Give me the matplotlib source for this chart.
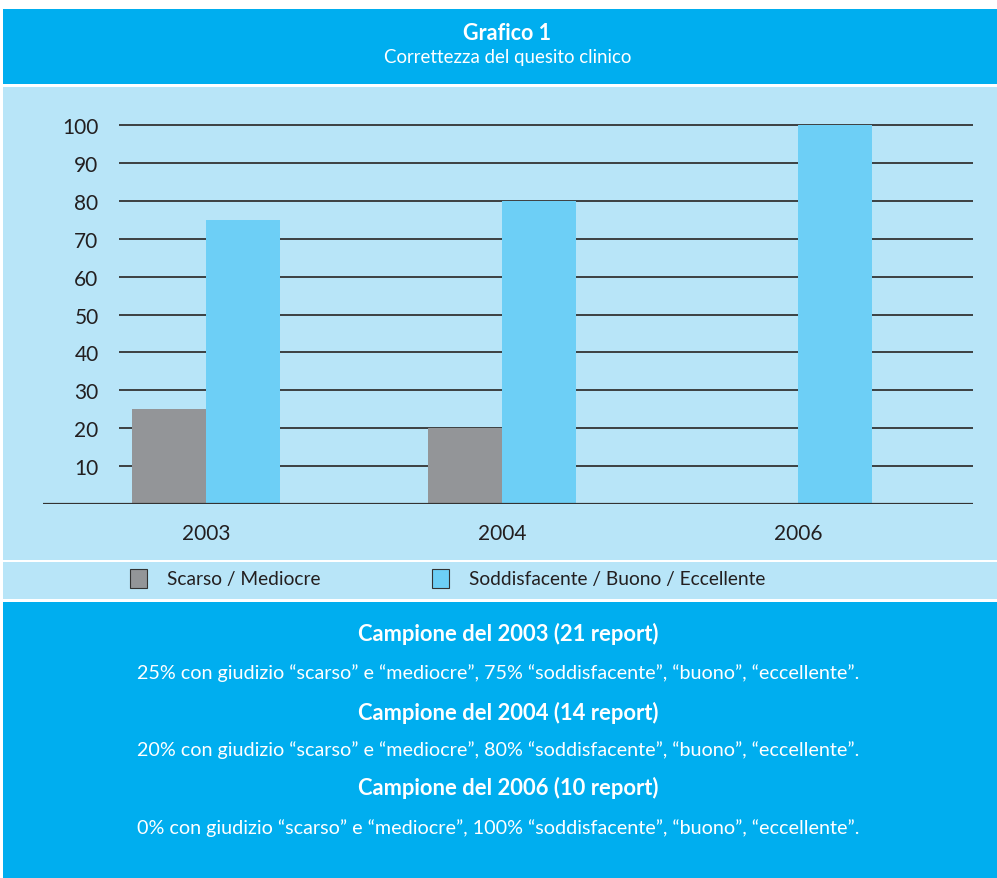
import numpy as np
import matplotlib.pyplot as plt
from matplotlib.patches import Rectangle

years = ['2003', '2004', '2006']
scarso = [25, 20, 0]
soddisf = [75, 80, 100]
yticks = list(range(10, 101, 10))

title = 'Grafico 1'
subtitle = 'Correttezza del quesito clinico'
legend_labels = ['Scarso / Mediocre', 'Soddisfacente / Buono / Eccellente']
notes = [
    ('Campione del 2003 (21 report)',
     '25% con giudizio \u201cscarso\u201d e \u201cmediocre\u201d, 75% \u201csoddisfacente\u201d, \u201cbuono\u201d, \u201ceccellente\u201d.'),
    ('Campione del 2004 (14 report)',
     '20% con giudizio \u201cscarso\u201d e \u201cmediocre\u201d, 80% \u201csoddisfacente\u201d, \u201cbuono\u201d, \u201ceccellente\u201d.'),
    ('Campione del 2006 (10 report)',
     '0% con giudizio \u201cscarso\u201d e \u201cmediocre\u201d, 100% \u201csoddisfacente\u201d, \u201cbuono\u201d, \u201ceccellente\u201d.'),
]

dark_blue = '#00AEEF'
light_blue = '#B8E5F8'
grey = '#939598'
bar_blue = '#6DCFF6'
ink = '#231F20'

plt.rcParams['font.family'] = ['Lato', 'DejaVu Sans']

W, H = 997, 879
fig = plt.figure(figsize=(W / 100, H / 100), dpi=100)
fig.patch.set_facecolor('white')


def px_rect(x0, y0, x1, y1, color):
    # pixel coords measured from top-left
    fig.patches.append(Rectangle((x0 / W, 1 - y1 / H), (x1 - x0) / W, (y1 - y0) / H,
                                 transform=fig.transFigure, facecolor=color,
                                 edgecolor='none', zorder=0))


px_rect(3, 10, W, 85, dark_blue)
px_rect(3, 88, W, 561, light_blue)
px_rect(3, 563, W, 600, light_blue)
px_rect(3, 603, W, H, dark_blue)

fig.text(507 / W, 1 - 33 / H, title, ha='center', va='center', color='white',
         fontsize=15.5, fontweight='bold')
fig.text(508 / W, 1 - 58 / H, subtitle, ha='center', va='center', color='white',
         fontsize=13.4)

# chart axes
ax = fig.add_axes([43 / W, 1 - 505 / H, (973 - 43) / W, (505 - 126) / H])
ax.set_zorder(5)
ax.set_facecolor('none')
x = np.arange(len(years))
w = 0.25
ax.bar(x - w / 2, scarso, w, color=grey, zorder=2)
ax.bar(x + w / 2, soddisf, w, color=bar_blue, zorder=2)
ax.set_xlim(-0.551, 2.591)
ax.set_ylim(0, 100)
ax.hlines(yticks, -0.294, 2.591, color='#333333', linewidth=1.3, zorder=1, clip_on=False)
ax.axhline(0, color='#333333', linewidth=1.6, zorder=3)
for s in ax.spines.values():
    s.set_visible(False)
ax.set_yticks(yticks)
ax.set_yticklabels([str(v) for v in yticks])
ax.tick_params(axis='y', length=0, pad=-40, labelsize=15, labelcolor=ink)
for lab in ax.get_yticklabels():
    lab.set_horizontalalignment('right')
ax.set_xticks(x)
ax.set_xticklabels(years)
ax.tick_params(axis='x', length=0, pad=14, labelsize=15, labelcolor=ink)

# legend
for (lx, col, lab) in [(130, grey, legend_labels[0]), (432, bar_blue, legend_labels[1])]:
    fig.patches.append(Rectangle((lx / W, 1 - 589 / H), 17 / W, 19 / H,
                                 transform=fig.transFigure, facecolor=col,
                                 edgecolor='#333333', linewidth=0.8, zorder=2))
    fig.text((lx + 37) / W, 1 - 580 / H, lab, ha='left', va='center', color=ink,
             fontsize=13.8)

# notes
ys = [(634, 673), (713, 750), (788, 828)]
for (bold, body), (yb, yn) in zip(notes, ys):
    fig.text(508 / W, 1 - yb / H, bold, ha='center', va='center', color='white',
             fontsize=15.8, fontweight='bold')
    fig.text(498 / W, 1 - yn / H, body, ha='center', va='center', color='white',
             fontsize=14.2)

fig.savefig('out.png', dpi=100, facecolor='white')
